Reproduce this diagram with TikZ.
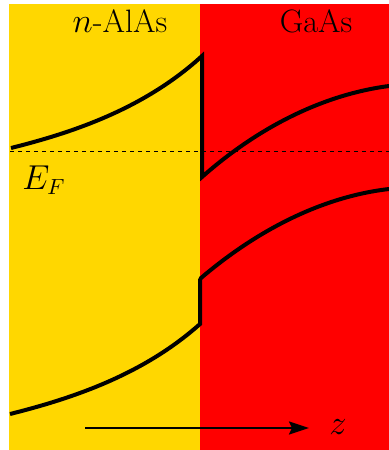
\documentclass[tikz,border=0pt]{standalone}
\usepackage{xcolor}
\usetikzlibrary{arrows.meta}
\definecolor{alasyellow}{RGB}{255,215,0}
\definecolor{gaasred}{RGB}{255,0,0}

\begin{document}
\begin{tikzpicture}[
  x=0.5pt, y=-0.5pt,
  band/.style={line width=2pt, line join=miter},
  fermi/.style={dash pattern=on 2.2pt off 1.8pt, line width=0.5pt},
  lbl/.style={inner sep=0pt, font=\fontsize{16.2}{19}\selectfont},
  ar/.style={-{Stealth[length=10pt, width=6.5pt, inset=1.5pt]}, line width=1pt}
]
\useasboundingbox (0,0) rectangle (389,450);

% layers
\fill[alasyellow] (9,4) rectangle (200,450);
\fill[gaasred] (200,4) rectangle (389,450);

\node[lbl] (alas) at (120,21) {$n$-AlAs};
\node[lbl] (gaas) at (316,21) {GaAs};

% Fermi level
\draw[fermi] (10,151) -- (389,151);
\node[lbl] (ef) at (44,180) {$E_F$};

% conduction band
\draw[band] (11,148) .. controls (75,132) and (145,108) .. (202,56)
  -- (202,177) .. controls (255,130) and (320,95) .. (389,86);

% valence band
\draw[band] (10,414) .. controls (74,398) and (144,374) .. (200,324)
  -- (200,280) -- (201,278) .. controls (255,232) and (320,197) .. (389,189);

% growth direction
\coordinate (zs) at (85,428);
\coordinate (ze) at (309,428);
\draw[ar] (zs) -- (ze);
\node[lbl] (z) at (338,427) {$z$};

\end{tikzpicture}
\end{document}
